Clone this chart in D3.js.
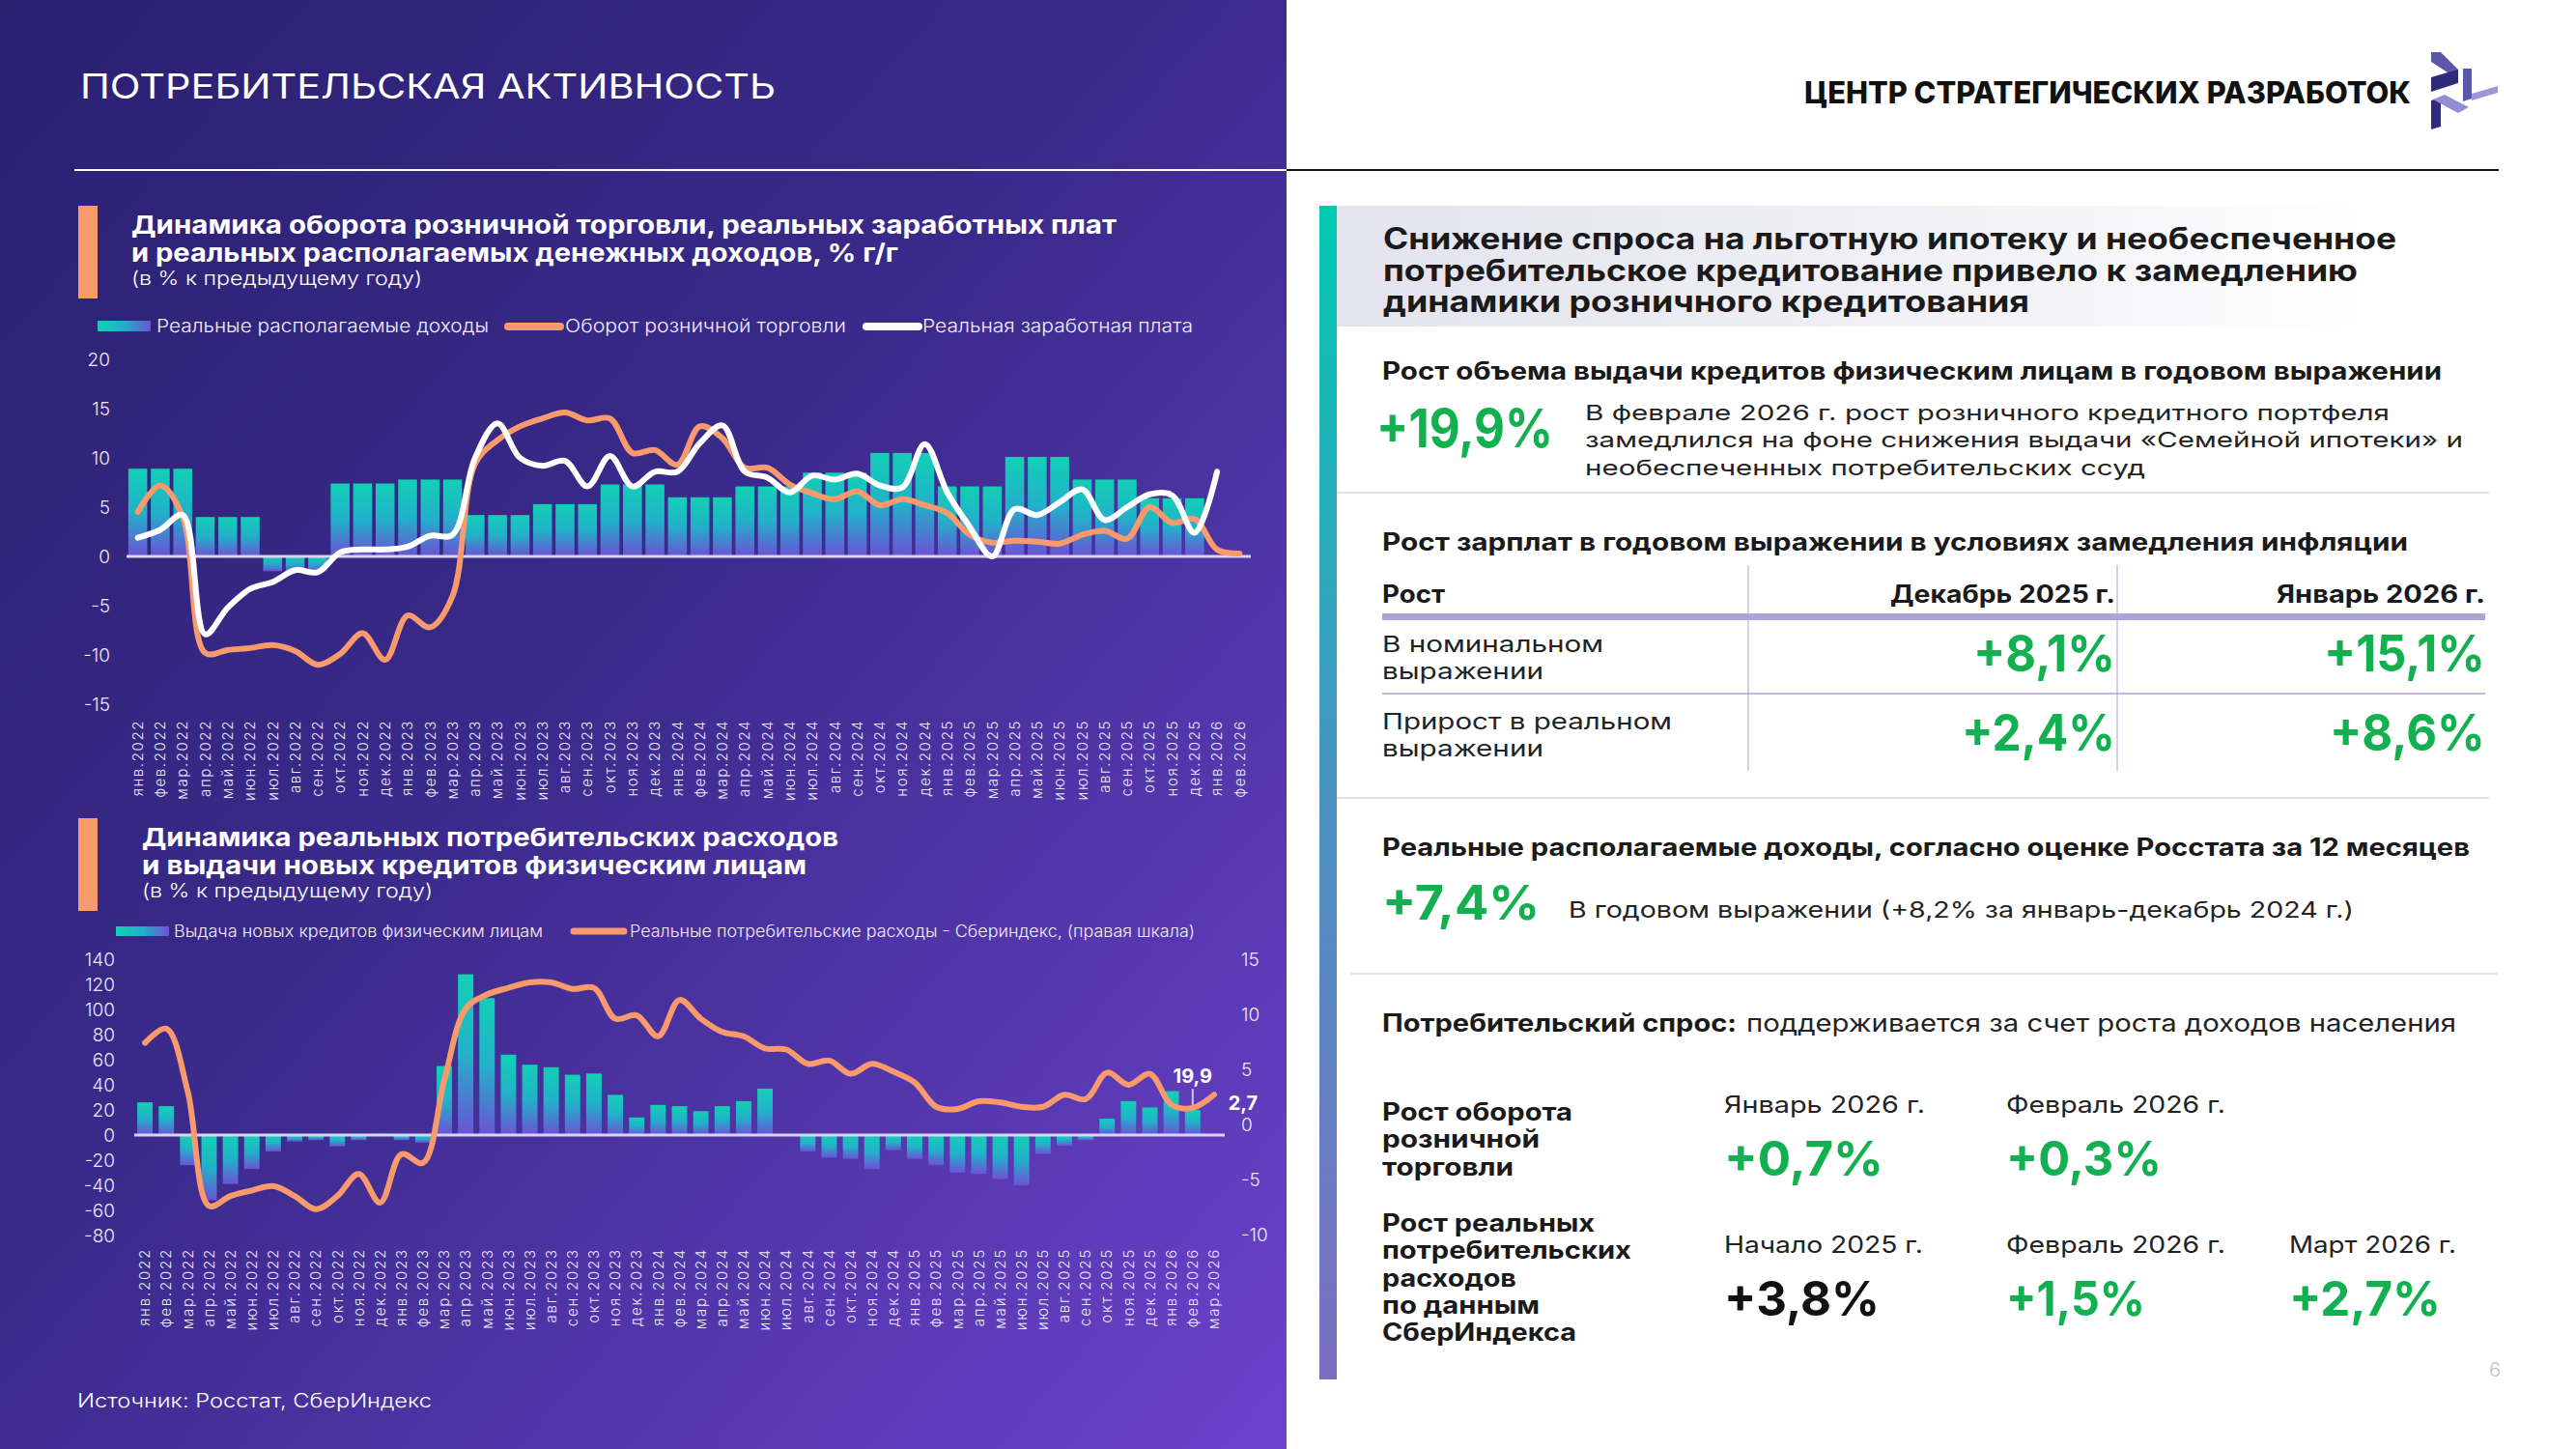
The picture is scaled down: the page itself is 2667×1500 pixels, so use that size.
<!DOCTYPE html>
<html><head><meta charset="utf-8">
<script src="https://cdn.jsdelivr.net/npm/d3@7"></script>
<style>html,body{margin:0;padding:0;background:#fff;} svg{display:block;}</style>
</head><body>
<svg id="c" width="2667" height="1500"></svg>
<script>
// ---------------- DATA ----------------
const months = ["янв.2022","фев.2022","мар.2022","апр.2022","май.2022","июн.2022","июл.2022","авг.2022","сен.2022","окт.2022","ноя.2022","дек.2022",
"янв.2023","фев.2023","мар.2023","апр.2023","май.2023","июн.2023","июл.2023","авг.2023","сен.2023","окт.2023","ноя.2023","дек.2023",
"янв.2024","фев.2024","мар.2024","апр.2024","май.2024","июн.2024","июл.2024","авг.2024","сен.2024","окт.2024","ноя.2024","дек.2024",
"янв.2025","фев.2025","мар.2025","апр.2025","май.2025","июн.2025","июл.2025","авг.2025","сен.2025","окт.2025","ноя.2025","дек.2025",
"янв.2026","фев.2026","мар.2026"];
const topMonths = months.slice(0, 50);

// Top chart: % y/y
const realIncome = [8.9,8.9,8.9, 4.0,4.0,4.0, -1.5,-1.5,-1.5, 7.4,7.4,7.4, 7.8,7.8,7.8, 4.2,4.2,4.2, 5.3,5.3,5.3, 7.3,7.3,7.3,
 6.0,6.0,6.0, 7.1,7.1,7.1, 8.5,8.5,8.5, 10.5,10.5,10.5, 7.1,7.1,7.1, 10.1,10.1,10.1, 7.8,7.8,7.8, 5.9,5.9,5.9, null,null];
const retailTurnover = [4.5,7.2,4.0,-9.8,-9.5,-9.3,-9.0,-9.6,-11.0,-9.9,-7.8,-10.5,-6.0,-7.2,-4.0,9.4,11.8,13.2,14.0,14.6,13.8,14.0,10.5,10.8,
 9.3,13.2,12.0,9.0,9.0,7.3,6.4,5.8,6.6,5.2,5.8,5.2,4.4,2.2,1.4,1.6,1.5,1.3,2.2,2.6,1.8,5.0,3.4,3.8,0.7,0.3];
const realWages = [1.9,2.7,4.2,-7.9,-5.2,-3.3,-2.6,-1.4,-1.6,0.4,0.7,0.7,1.0,2.1,2.2,10.0,13.5,10.0,9.2,9.7,7.1,10.2,7.1,8.6,
 8.6,11.5,13.3,8.6,8.0,6.5,8.2,7.8,8.4,7.2,7.0,11.4,6.5,3.0,0.0,4.8,4.2,5.5,6.8,3.7,5.0,6.3,6.2,2.4,8.6,null];
const topTicks = [20,15,10,5,0,-5,-10,-15];

// Bottom chart
const newLoans = [26,23,-24,-52,-39,-27,-13,-5,-4,-9,-4,1,-4,-6,55,128,109,64,56,54,48,49,32,14,
 24,23,19,23,27,37,0,-13,-18,-19,-27,-12,-19,-24,-30,-31,-35,-40,-15,-8.5,-4,13,27,22,35,19.9,null];
const consumerSpending = [7.4,8.7,3.0,-7.4,-6.5,-6.0,-5.6,-6.5,-7.7,-6.5,-4.5,-7.1,-2.7,-3.5,4.0,10.5,11.8,12.4,12.9,12.9,12.3,12.4,9.6,9.9,
 8.0,11.3,9.6,8.4,8.0,6.9,6.8,5.5,5.8,4.6,5.5,4.8,3.8,1.6,1.4,2.1,2.0,1.6,1.6,2.7,2.3,4.7,3.6,4.6,1.8,1.5,2.7];
const botLeftTicks = [140,120,100,80,60,40,20,0,-20,-40,-60,-80];
const botRightTicks = [15,10,5,0,-5,-10];

// ---------------- SETUP ----------------
const FONT = "Inter, 'Open Sans', 'DejaVu Sans', sans-serif";
const ORANGE = "#f99a6c", GREEN = "#12b04e";
const svg = d3.select("#c").attr("font-family", FONT);
const defs = svg.append("defs");
function grad(id, x2, y2, stops){
  const g = defs.append("linearGradient").attr("id", id).attr("x1",0).attr("y1",0).attr("x2",x2).attr("y2",y2);
  stops.forEach(([o,c]) => g.append("stop").attr("offset", o).attr("stop-color", c));
}
grad("bgGrad", 1, 1, [[0,"#2a2070"],[0.45,"#3a2a8b"],[1,"#6c42cc"]]);
grad("barGrad", 0, 1, [[0,"#12d0b4"],[0.5,"#22b0ca"],[1,"#6c52d6"]]);
grad("swGrad", 1, 0, [[0,"#12d0b4"],[0.5,"#22b0ca"],[1,"#6c52d6"]]);
grad("accGrad", 0, 1, [[0,"#00c9b1"],[0.5,"#4a93c4"],[1,"#7c6dc2"]]);
grad("boxGrad", 1, 0, [[0,"#e3e3ee"],[0.6,"#f1f1f6"],[1,"#ffffff"]]);

function T(x, y, s, o){
  o = o || {};
  const t = svg.append("text").attr("x", x).attr("y", y).text(s)
    .attr("font-size", o.size || 22).attr("font-weight", o.w || 400)
    .attr("fill", o.fill || "#1a1a1a").attr("text-anchor", o.anchor || "start");
  if (o.len) t.attr("textLength", o.len).attr("lengthAdjust", "spacingAndGlyphs");
  return t;
}
const fmt = d => String(d);

// ---------------- BACKGROUNDS ----------------
svg.append("rect").attr("x",0).attr("y",0).attr("width",2667).attr("height",1500).attr("fill","#fff");
svg.append("rect").attr("x",0).attr("y",0).attr("width",1332).attr("height",1500).attr("fill","url(#bgGrad)");
svg.append("line").attr("x1",77).attr("x2",1332).attr("y1",176).attr("y2",176).attr("stroke","#fff").attr("stroke-width",2);
svg.append("line").attr("x1",1332).attr("x2",2587).attr("y1",176).attr("y2",176).attr("stroke","#111").attr("stroke-width",2);

T(83, 102, "ПОТРЕБИТЕЛЬСКАЯ АКТИВНОСТЬ", {size:35, fill:"#fff", len:720});

// ---------------- TOP CHART ----------------
svg.append("rect").attr("x",81).attr("y",213).attr("width",20).attr("height",96).attr("fill",ORANGE);
T(136, 242, "Динамика оборота розничной торговли, реальных заработных плат", {size:26, w:700, fill:"#fff", len:1020});
T(136, 271, "и реальных располагаемых денежных доходов, % г/г", {size:26, w:700, fill:"#fff", len:794});
T(136, 295, "(в % к предыдущему году)", {size:20, w:300, fill:"#fff", len:301});

// legend
svg.append("rect").attr("x",101).attr("y",332).attr("width",55).attr("height",11).attr("fill","url(#swGrad)");
T(162, 344, "Реальные располагаемые доходы", {size:19, w:300, fill:"#f0eefa", len:344});
svg.append("line").attr("x1",526).attr("x2",580).attr("y1",338).attr("y2",338).attr("stroke",ORANGE).attr("stroke-width",8).attr("stroke-linecap","round");
T(585, 344, "Оборот розничной торговли", {size:19, w:300, fill:"#f0eefa", len:291});
svg.append("line").attr("x1",897).attr("x2",951).attr("y1",338).attr("y2",338).attr("stroke","#fff").attr("stroke-width",8).attr("stroke-linecap","round");
T(955, 344, "Реальная заработная плата", {size:19, w:300, fill:"#f0eefa", len:280});

const xTop = d3.scaleBand().domain(topMonths).range([131,1295]).paddingInner(0.16).paddingOuter(0.08);
const yTop = d3.scaleLinear().domain([-15,20]).range([729,372]);
const gTop = svg.append("g");

gTop.append("g").selectAll("rect").data(topMonths.map((m,i)=>({m, v: realIncome[i]})).filter(d=>d.v!=null))
  .join("rect").attr("x", d=>xTop(d.m)).attr("width", xTop.bandwidth())
  .attr("y", d=>yTop(Math.max(0,d.v))).attr("height", d=>Math.abs(yTop(d.v)-yTop(0)))
  .attr("fill","url(#barGrad)");

gTop.append("line").attr("x1",131).attr("x2",1295).attr("y1",yTop(0)).attr("y2",yTop(0)).attr("stroke","#d9d5f2").attr("stroke-width",3);

const cx = (sc, m) => sc(m) + sc.bandwidth()/2;
const lineTopO = d3.line().defined(d=>d.v!=null).x(d=>cx(xTop,d.m)).y(d=>yTop(d.v)).curve(d3.curveCatmullRom.alpha(0.5));
gTop.append("path").datum(topMonths.map((m,i)=>({m, v: retailTurnover[i]})))
  .attr("d", lineTopO).attr("fill","none").attr("stroke",ORANGE).attr("stroke-width",6).attr("stroke-linejoin","round").attr("stroke-linecap","round");
gTop.append("path").datum(topMonths.map((m,i)=>({m, v: realWages[i]})))
  .attr("d", lineTopO).attr("fill","none").attr("stroke","#fff").attr("stroke-width",6).attr("stroke-linejoin","round").attr("stroke-linecap","round");

const axTopY = gTop.append("g").attr("transform","translate(114,0)")
  .call(d3.axisLeft(yTop).tickValues(topTicks).tickSize(0).tickPadding(0).tickFormat(fmt));
axTopY.select(".domain").remove();
axTopY.selectAll("text").attr("font-size",19).attr("font-weight",300).attr("fill","#ebe9f7").attr("font-family",FONT);

const axTopX = gTop.append("g").attr("transform","translate(0,745)").call(d3.axisBottom(xTop).tickSize(0));
axTopX.select(".domain").remove();
axTopX.selectAll("text").attr("transform","rotate(-90)").attr("x",0).attr("y",0).attr("dy","0.35em")
  .style("text-anchor","end").attr("font-size",15).attr("font-weight",300).attr("letter-spacing",1.6)
  .attr("fill","#ebe9f7").attr("font-family",FONT);

// ---------------- BOTTOM CHART ----------------
svg.append("rect").attr("x",81).attr("y",847).attr("width",20).attr("height",96).attr("fill",ORANGE);
T(147, 876, "Динамика реальных потребительских расходов", {size:26, w:700, fill:"#fff", len:721});
T(147, 905, "и выдачи новых кредитов физическим лицам", {size:26, w:700, fill:"#fff", len:688});
T(147, 929, "(в % к предыдущему году)", {size:20, w:300, fill:"#fff", len:301});

svg.append("rect").attr("x",120).attr("y",959).attr("width",55).attr("height",10).attr("fill","url(#swGrad)");
T(180, 970, "Выдача новых кредитов физическим лицам", {size:17, w:300, fill:"#f0eefa", len:382});
svg.append("line").attr("x1",594).attr("x2",646).attr("y1",964).attr("y2",964).attr("stroke",ORANGE).attr("stroke-width",7).attr("stroke-linecap","round");
T(652, 970, "Реальные потребительские расходы - Сбериндекс, (правая шкала)", {size:17, w:300, fill:"#f0eefa", len:585});

const xBot = d3.scaleBand().domain(months).range([139,1268]).paddingInner(0.28).paddingOuter(0.14);
const yBotL = d3.scaleLinear().domain([-80,140]).range([1279,993]);
const yBotR = d3.scaleLinear().domain([-10,15]).range([1278,993]);
const gBot = svg.append("g");

gBot.append("g").selectAll("rect").data(months.map((m,i)=>({m, v:newLoans[i]})).filter(d=>d.v!=null && d.v!==0))
  .join("rect").attr("x", d=>xBot(d.m)).attr("width", xBot.bandwidth())
  .attr("y", d=>yBotL(Math.max(0,d.v))).attr("height", d=>Math.abs(yBotL(d.v)-yBotL(0)))
  .attr("fill","url(#barGrad)");

gBot.append("line").attr("x1",139).attr("x2",1268).attr("y1",yBotL(0)).attr("y2",yBotL(0)).attr("stroke","#d9d5f2").attr("stroke-width",3);

const lastLoan = months[49];
gBot.append("line").attr("x1",cx(xBot,lastLoan)).attr("x2",cx(xBot,lastLoan))
  .attr("y1",yBotL(19.9)-22).attr("y2",yBotL(19.9)).attr("stroke","#c9c6de").attr("stroke-width",2);

const lineBot = d3.line().defined(d=>d.v!=null).x(d=>cx(xBot,d.m)).y(d=>yBotR(d.v)).curve(d3.curveCatmullRom.alpha(0.5));
gBot.append("path").datum(months.map((m,i)=>({m, v:consumerSpending[i]})))
  .attr("d", lineBot).attr("fill","none").attr("stroke",ORANGE).attr("stroke-width",6).attr("stroke-linejoin","round").attr("stroke-linecap","round");

T(cx(xBot,lastLoan), yBotL(19.9)-28, "19,9", {size:20, w:700, fill:"#fff", anchor:"middle"});
T(cx(xBot,months[50])+30, yBotR(2.7)+16, "2,7", {size:20, w:700, fill:"#fff", anchor:"middle"});

const axBL = gBot.append("g").attr("transform","translate(119,0)")
  .call(d3.axisLeft(yBotL).tickValues(botLeftTicks).tickSize(0).tickPadding(0).tickFormat(fmt));
axBL.select(".domain").remove();
axBL.selectAll("text").attr("font-size",19).attr("font-weight",300).attr("fill","#ebe9f7").attr("font-family",FONT);

const axBR = gBot.append("g").attr("transform","translate(1285,0)")
  .call(d3.axisRight(yBotR).tickValues(botRightTicks).tickSize(0).tickPadding(0).tickFormat(fmt));
axBR.select(".domain").remove();
axBR.selectAll("text").attr("font-size",19).attr("font-weight",300).attr("fill","#ebe9f7").attr("font-family",FONT);

const axBX = gBot.append("g").attr("transform","translate(0,1292)").call(d3.axisBottom(xBot).tickSize(0));
axBX.select(".domain").remove();
axBX.selectAll("text").attr("transform","rotate(-90)").attr("x",0).attr("y",0).attr("dy","0.35em")
  .style("text-anchor","end").attr("font-size",15).attr("font-weight",300).attr("letter-spacing",1.8)
  .attr("fill","#ebe9f7").attr("font-family",FONT);

T(80, 1457, "Источник: Росстат, СберИндекс", {size:20, w:300, fill:"#fff", len:367});

// ---------------- RIGHT PANEL ----------------
T(1868, 107, "ЦЕНТР СТРАТЕГИЧЕСКИХ РАЗРАБОТОК", {size:31, w:800, fill:"#111", len:628});
// logo
const logoShapes = [
  {p:[[2517,54],[2527,54],[2545,72],[2545,82],[2517,64]], c:"#5d57aa"},
  {p:[[2517,80],[2545,72],[2545,86],[2517,95]], c:"#2f2a7a"},
  {p:[[2517,104],[2527,101],[2527,131],[2517,134]], c:"#2f2a7a"},
  {p:[[2519,103],[2531,98],[2556,111],[2545,117]], c:"#938ed3"},
  {p:[[2550,71],[2559,71],[2559,102],[2550,105]], c:"#5d57aa"},
  {p:[[2559,97],[2586,89],[2586,96],[2559,104]], c:"#9c97d8"}
];
svg.append("g").selectAll("polygon").data(logoShapes).join("polygon")
  .attr("points", d=>d.p.map(q=>q.join(",")).join(" ")).attr("fill", d=>d.c);

svg.append("rect").attr("x",1366).attr("y",213).attr("width",18).attr("height",1215).attr("fill","url(#accGrad)");
svg.append("rect").attr("x",1384).attr("y",213).attr("width",1060).attr("height",125).attr("fill","url(#boxGrad)");
T(1432, 258, "Снижение спроса на льготную ипотеку и необеспеченное", {size:31, w:700, len:1049});
T(1432, 291, "потребительское кредитование привело к замедлению", {size:31, w:700, len:1009});
T(1432, 323, "динамики розничного кредитования", {size:31, w:700, len:669});

T(1431, 393, "Рост объема выдачи кредитов физическим лицам в годовом выражении", {size:25, w:700, len:1097});
T(1425, 463, "+19,9%", {size:55, w:700, fill:GREEN, len:183});
T(1641, 435, "В феврале 2026 г. рост розничного кредитного портфеля", {size:22, w:400, fill:"#222", len:833});
T(1641, 463, "замедлился на фоне снижения выдачи «Семейной ипотеки» и", {size:22, w:400, fill:"#222", len:909});
T(1641, 492, "необеспеченных потребительских ссуд", {size:22, w:400, fill:"#222", len:580});
svg.append("line").attr("x1",1384).attr("x2",2577).attr("y1",510).attr("y2",510).attr("stroke","#e1e1ea").attr("stroke-width",2);

T(1431, 570, "Рост зарплат в годовом выражении в условиях замедления инфляции", {size:25, w:700, len:1062});
svg.append("line").attr("x1",1810).attr("x2",1810).attr("y1",585).attr("y2",798).attr("stroke","#c4c1e2").attr("stroke-width",1.5);
svg.append("line").attr("x1",2192).attr("x2",2192).attr("y1",585).attr("y2",798).attr("stroke","#c4c1e2").attr("stroke-width",1.5);
T(1431, 624, "Рост", {size:25, w:700, len:65});
T(2190, 624, "Декабрь 2025 г.", {size:25, w:700, anchor:"end", len:233});
T(2573, 624, "Январь 2026 г.", {size:25, w:700, anchor:"end", len:216});
svg.append("rect").attr("x",1431).attr("y",635).attr("width",1142).attr("height",7).attr("fill","#aaa6d8");
T(1431, 675, "В номинальном", {size:23, w:400, fill:"#222", len:229});
T(1431, 703, "выражении", {size:23, w:400, fill:"#222", len:167});
T(2190, 695, "+8,1%", {size:52, w:700, fill:GREEN, anchor:"end", len:147});
T(2573, 695, "+15,1%", {size:52, w:700, fill:GREEN, anchor:"end", len:167});
svg.append("line").attr("x1",1431).attr("x2",2573).attr("y1",718).attr("y2",718).attr("stroke","#aaa6d8").attr("stroke-width",1.5);
T(1431, 755, "Прирост в реальном", {size:23, w:400, fill:"#222", len:300});
T(1431, 783, "выражении", {size:23, w:400, fill:"#222", len:167});
T(2190, 777, "+2,4%", {size:52, w:700, fill:GREEN, anchor:"end", len:159});
T(2573, 777, "+8,6%", {size:52, w:700, fill:GREEN, anchor:"end", len:161});
svg.append("line").attr("x1",1384).attr("x2",2577).attr("y1",826).attr("y2",826).attr("stroke","#e1e1ea").attr("stroke-width",2);

T(1431, 886, "Реальные располагаемые доходы, согласно оценке Росстата за 12 месяцев", {size:25, w:700, len:1126});
T(1431, 952, "+7,4%", {size:50, w:700, fill:GREEN, len:163});
T(1624, 950, "В годовом выражении (+8,2% за январь-декабрь 2024 г.)", {size:23, w:400, fill:"#222", len:813});
svg.append("line").attr("x1",1398).attr("x2",2586).attr("y1",1008).attr("y2",1008).attr("stroke","#e1e1ea").attr("stroke-width",2);

T(1431, 1068, "Потребительский спрос:", {size:25, w:700, len:367});
T(1808, 1068, "поддерживается за счет роста доходов населения", {size:25, w:400, fill:"#222", len:735});

T(1431, 1160, "Рост оборота", {size:25, w:700, len:197});
T(1431, 1188, "розничной", {size:25, w:700, len:163});
T(1431, 1217, "торговли", {size:25, w:700, len:136});
T(1785, 1152, "Январь 2026 г.", {size:24, w:400, fill:"#222", len:208});
T(2077, 1152, "Февраль 2026 г.", {size:24, w:400, fill:"#222", len:227});
T(1785, 1217, "+0,7%", {size:50, w:700, fill:GREEN, len:165});
T(2077, 1217, "+0,3%", {size:50, w:700, fill:GREEN, len:161});

T(1431, 1275, "Рост реальных", {size:25, w:700, len:220});
T(1431, 1303, "потребительских", {size:25, w:700, len:258});
T(1431, 1332, "расходов", {size:25, w:700, len:139});
T(1431, 1360, "по данным", {size:25, w:700, len:163});
T(1431, 1388, "СберИндекса", {size:25, w:700, len:201});
T(1785, 1297, "Начало 2025 г.", {size:24, w:400, fill:"#222", len:206});
T(2077, 1297, "Февраль 2026 г.", {size:24, w:400, fill:"#222", len:227});
T(2370, 1297, "Март 2026 г.", {size:24, w:400, fill:"#222", len:173});
T(1785, 1362, "+3,8%", {size:50, w:700, fill:"#111", len:161});
T(2077, 1362, "+1,5%", {size:50, w:700, fill:GREEN, len:144});
T(2370, 1362, "+2,7%", {size:50, w:700, fill:GREEN, len:157});

T(2577, 1425, "6", {size:20, w:300, fill:"#bdbdc8"});
</script>
</body></html>
